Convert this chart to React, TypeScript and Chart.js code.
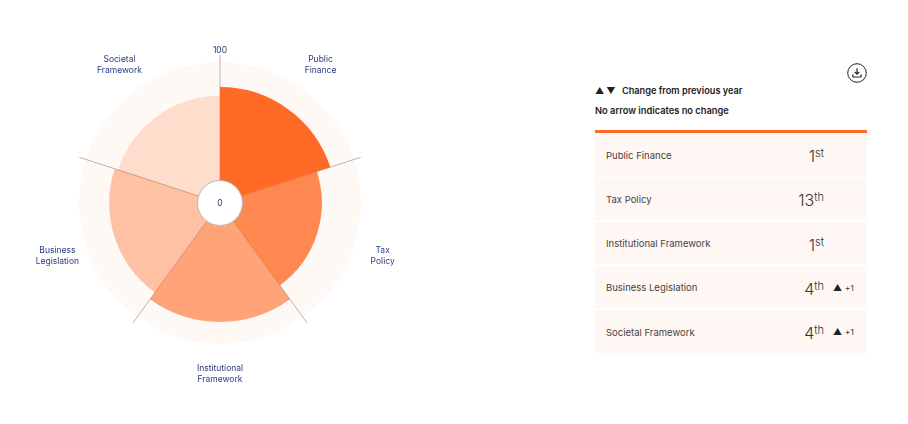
import React, { useEffect, useRef } from "react";
import { Chart, registerables } from "chart.js";

Chart.register(...registerables);

const categories = ["Public Finance", "Tax Policy", "Institutional Framework", "Business Legislation", "Societal Framework"];
const pointLabels = [["Public", "Finance"], ["Tax", "Policy"], ["Institutional", "Framework"], ["Business", "Legislation"], ["Societal", "Framework"]];
const scores = [79, 67, 81.5, 74.5, 71.5];
const fullScale = [100, 100, 100, 100, 100];
const segmentColors = ["#FF6B27", "rgba(255,107,39,0.8)", "rgba(255,107,39,0.6)", "rgba(255,107,39,0.4)", "rgba(255,107,39,0.2)"];
const ranks = ["1", "13", "1", "4", "4"];
const suffixes = ["st", "th", "st", "th", "th"];
const changes = ["", "", "", "+1", "+1"];
const tickLabels = ["0", "100"];

const SCALE_MIN = -19;
const SCALE_MAX = 106;
const TOP_LABEL_AT = 110;
const LABEL_GAP = 23;

const FONT = "Inter, 'Noto Sans', sans-serif";

const holePlugin = {
  id: "hole",
  afterDatasetsDraw(chart: any) {
    const s = chart.scales.r;
    const r = s.getDistanceFromCenterForValue(0);
    const ctx = chart.ctx;
    ctx.save();
    ctx.beginPath();
    ctx.arc(s.xCenter, s.yCenter, r, 0, Math.PI * 2);
    ctx.fillStyle = "#fff";
    ctx.fill();
    ctx.lineWidth = 1;
    ctx.strokeStyle = "#b9b9b4";
    ctx.stroke();
    ctx.restore();
  },
  afterDraw(chart: any) {
    const s = chart.scales.r;
    const ctx = chart.ctx;
    const half = Math.PI / pointLabels.length;
    ctx.save();
    ctx.font = `8.5px ${FONT}`;
    ctx.fillStyle = "#2b4080";
    ctx.textAlign = "center";
    ctx.textBaseline = "middle";
    pointLabels.forEach((lines, i) => {
      const p = s.getPointPosition(i, s.drawingArea + LABEL_GAP, half);
      lines.forEach((line, j) => {
        ctx.fillText(line, p.x, p.y + (j - (lines.length - 1) / 2) * 11);
      });
    });
    ctx.restore();
  },
};

export default function App() {
  const ref = useRef<HTMLCanvasElement>(null);
  useEffect(() => {
    const chart = new Chart(ref.current!, {
      type: "polarArea",
      data: {
        labels: categories,
        datasets: [
          { label: "Score", data: scores, backgroundColor: segmentColors, borderWidth: 0 },
          { label: "Scale", data: fullScale, backgroundColor: "rgba(255,107,39,0.045)", borderWidth: 0 },
        ],
      },
      plugins: [holePlugin],
      options: {
        responsive: false,
        animation: false,
        layout: { padding: 48 },
        plugins: { legend: { display: false }, tooltip: { enabled: false } },
        scales: {
          r: {
            min: SCALE_MIN,
            max: SCALE_MAX,
            startAngle: 0,
            grid: { display: false, z: 0 },
            angleLines: { display: true, color: "#b9b5b0", lineWidth: 1 },
            afterBuildTicks(scale: any) {
              scale.ticks = [{ value: SCALE_MIN }, { value: TOP_LABEL_AT }];
            },
            ticks: {
              z: 1,
              showLabelBackdrop: false,
              color: "#1f3a7a",
              font: { family: FONT, size: 8.5 },
              callback: (_v: number, i: number) => tickLabels[i],
            },
            pointLabels: { display: false },
          },
        },
      } as any,
    });
    return () => chart.destroy();
  }, []);

  return (
    <div style={{ position: "absolute", left: 0, top: 0, width: 908, height: 424, background: "#fff", fontFamily: FONT, overflow: "hidden" }}>
      <canvas ref={ref} width={440} height={406} style={{ position: "absolute", left: 0, top: 0, width: 440, height: 406 }} />
      <svg width={20} height={20} viewBox="0 0 20 20" style={{ position: "absolute", left: 847, top: 63 }}>
        <circle cx={10} cy={10} r={9.3} fill="none" stroke="#222" strokeWidth={1} />
        <path d="M10 5.2V11M7.6 8.8L10 11.2L12.4 8.8M5.8 11.5V13.2a.8.8 0 0 0 .8.8h6.8a.8.8 0 0 0 .8-.8V11.5" fill="none" stroke="#222" strokeWidth={1.2} />
      </svg>
      <div style={{ position: "absolute", left: 595, top: 84, fontSize: 9.2, fontWeight: 600, color: "#222", whiteSpace: "nowrap", lineHeight: "14px" }}>
        <span style={{ fontSize: 9, letterSpacing: 2, marginRight: 2 }}>▲▼</span> Change from previous year
      </div>
      <div style={{ position: "absolute", left: 595, top: 104, fontSize: 9.3, fontWeight: 600, color: "#222", whiteSpace: "nowrap", lineHeight: "14px" }}>
        No arrow indicates no change
      </div>
      <div style={{ position: "absolute", left: 595, top: 130, width: 272, height: 3, background: "#FF6B27" }} />
      {categories.map((c, i) => (
        <div key={c} style={{ position: "absolute", left: 595, top: 133 + i * 44.3, width: 272, height: 42.5, background: "#FFF7F3", color: "#444" }}>
          <div style={{ position: "absolute", left: 11, top: 0.5, lineHeight: "44px", fontSize: 9.5, whiteSpace: "nowrap" }}>{c}</div>
          <div style={{ position: "absolute", right: 43, top: 0, lineHeight: "46px", fontSize: 16, fontWeight: 300, color: "#333", whiteSpace: "nowrap" }}>
            {ranks[i]}
            <sup style={{ fontSize: 11, lineHeight: 0, verticalAlign: "5px" }}>{suffixes[i]}</sup>
          </div>
          {changes[i] && (
            <div style={{ position: "absolute", left: 238, top: 0, lineHeight: "44px", fontSize: 8, color: "#333", whiteSpace: "nowrap" }}>
              <span style={{ fontSize: 9, color: "#222", marginRight: 3 }}>▲</span>{changes[i]}
            </div>
          )}
        </div>
      ))}
    </div>
  );
}
